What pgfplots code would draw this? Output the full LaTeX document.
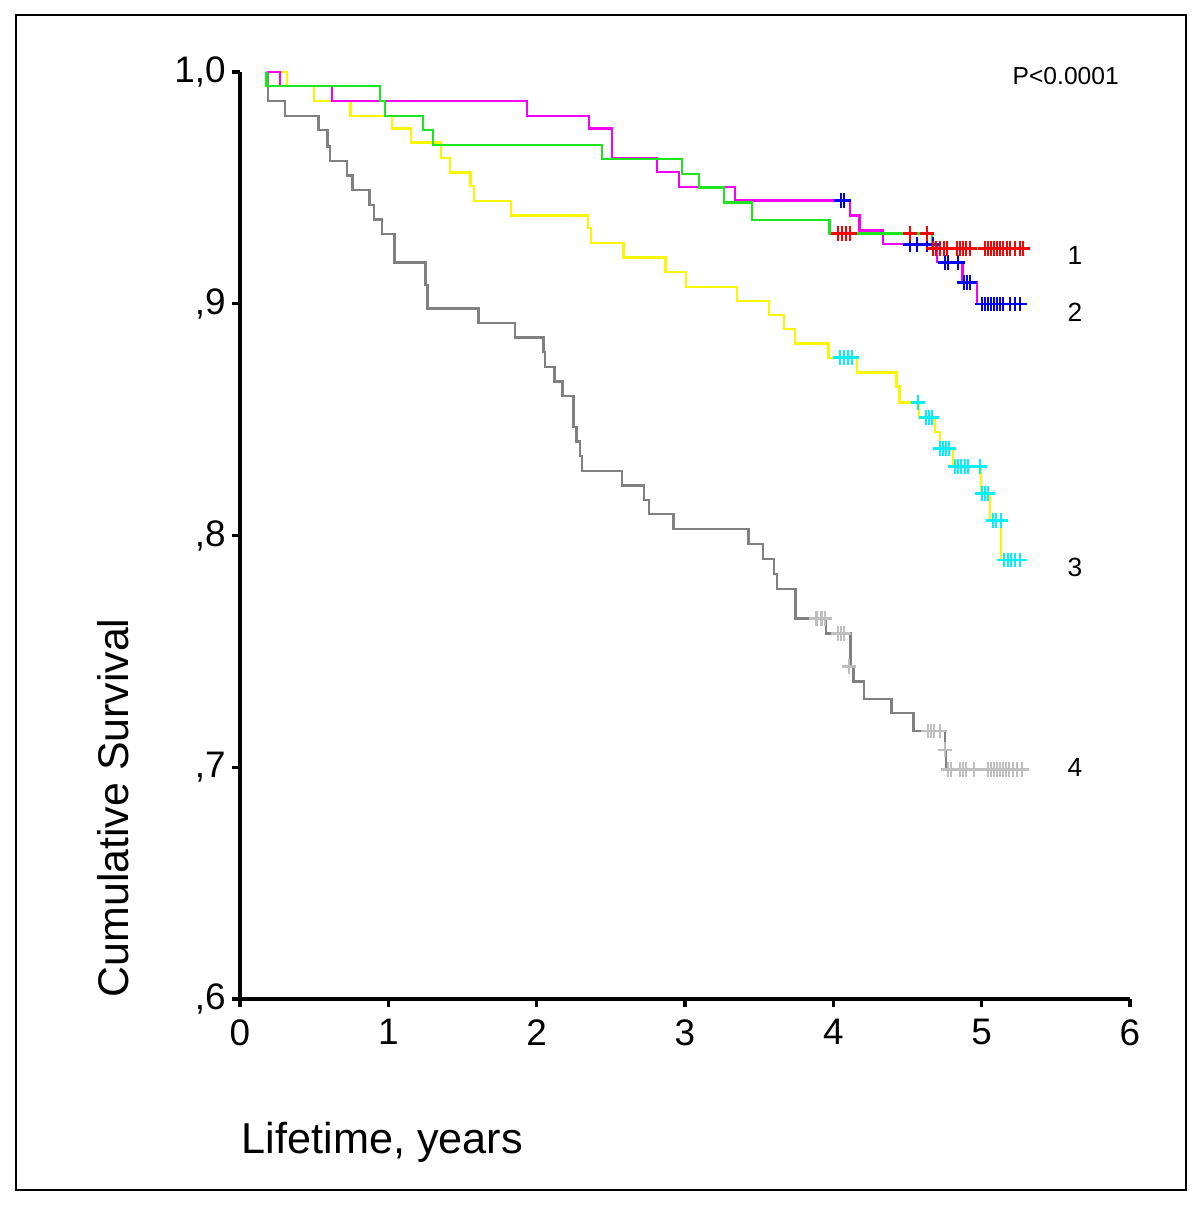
\documentclass[border=0pt]{standalone}
\usepackage{pgfplots}
\usepackage{pgfplotstable}
\pgfplotsset{compat=1.18}
\usepackage{fontspec}
\setmainfont{Liberation Sans}

\definecolor{cgreen}{RGB}{30,230,30}
\definecolor{cmag}{RGB}{245,0,245}
\definecolor{cyel}{RGB}{250,245,0}
\definecolor{cgray}{RGB}{128,128,128}
\definecolor{cred}{RGB}{255,0,0}
\definecolor{cblue}{RGB}{0,0,240}
\definecolor{ccyan}{RGB}{0,240,255}
\definecolor{clgray}{RGB}{190,190,190}

% group 1: green line, red censor marks
\pgfplotstableread{
x y
0.18 1.0
0.18 0.9940
0.944 0.9875
0.978 0.9811
1.234 0.9750
1.301 0.9685
2.441 0.9625
2.980 0.9560
3.094 0.9501
3.263 0.9436
3.452 0.9361
3.973 0.9303
4.665 0.9238
5.279 0.9238
}\gone
\pgfplotstableread{
x y
4.032 0.9303
4.058 0.9303
4.085 0.9303
4.112 0.9303
4.517 0.9303
4.632 0.9303
4.672 0.9238
4.692 0.9238
4.719 0.9238
4.746 0.9238
4.766 0.9238
4.834 0.9238
4.854 0.9238
4.874 0.9238
4.895 0.9238
4.921 0.9238
5.023 0.9238
5.043 0.9238
5.063 0.9238
5.083 0.9238
5.104 0.9238
5.124 0.9238
5.144 0.9238
5.171 0.9238
5.191 0.9238
5.225 0.9238
5.259 0.9238
5.279 0.9238
}\cone

% group 2: magenta line, blue censor marks
\pgfplotstableread{
x y
0.18 1.0
0.270 0.9940
0.620 0.9875
1.935 0.9811
2.353 0.9757
2.508 0.9630
2.811 0.9568
2.960 0.9504
3.337 0.9445
4.112 0.9381
4.175 0.9317
4.333 0.9257
4.699 0.9179
4.872 0.9093
4.969 0.8999
5.259 0.8999
}\gtwo
\pgfplotstableread{
x y
4.052 0.9445
4.072 0.9445
4.517 0.9257
4.564 0.9257
4.632 0.9257
4.672 0.9257
4.753 0.9179
4.773 0.9179
4.841 0.9179
4.881 0.9093
4.901 0.9093
4.922 0.9093
5.002 0.8999
5.023 0.8999
5.043 0.8999
5.063 0.8999
5.083 0.8999
5.104 0.8999
5.124 0.8999
5.144 0.8999
5.191 0.8999
5.225 0.8999
5.259 0.8999
}\ctwo

% group 3: yellow line, cyan censor marks
\pgfplotstableread{
x y
0.18 1.0
0.317 0.9940
0.499 0.9875
0.746 0.9811
1.025 0.9757
1.153 0.9695
1.355 0.9630
1.416 0.9567
1.555 0.9508
1.578 0.9443
1.827 0.9380
2.346 0.9327
2.366 0.9263
2.584 0.9199
2.870 0.9136
3.007 0.9072
3.351 0.9012
3.566 0.8952
3.668 0.8891
3.742 0.8829
3.968 0.8767
4.158 0.8703
4.427 0.8642
4.447 0.8573
4.578 0.8510
4.686 0.8447
4.720 0.8376
4.807 0.8297
4.996 0.8182
5.056 0.8064
5.130 0.7894
5.259 0.7894
}\gthree
\pgfplotstableread{
x y
4.045 0.8767
4.072 0.8767
4.099 0.8767
4.126 0.8767
4.571 0.8573
4.625 0.8510
4.645 0.8510
4.665 0.8510
4.719 0.8376
4.740 0.8376
4.760 0.8376
4.780 0.8376
4.820 0.8297
4.841 0.8297
4.861 0.8297
4.888 0.8297
4.908 0.8297
4.989 0.8297
5.002 0.8182
5.023 0.8182
5.043 0.8182
5.076 0.8064
5.097 0.8064
5.130 0.8064
5.151 0.7894
5.178 0.7894
5.198 0.7894
5.225 0.7894
5.259 0.7894
}\cthree

% group 4: grey line, light grey censor marks
\pgfplotstableread{
x y
0.18 1.0
0.19 0.9875
0.303 0.9811
0.528 0.9750
0.589 0.9678
0.607 0.9616
0.723 0.9553
0.757 0.9491
0.872 0.9426
0.905 0.9364
0.959 0.9301
1.040 0.9177
1.252 0.9081
1.265 0.8980
1.607 0.8916
1.854 0.8854
2.045 0.8792
2.056 0.8728
2.119 0.8664
2.173 0.8602
2.247 0.8469
2.270 0.8405
2.292 0.8343
2.304 0.8278
2.577 0.8215
2.724 0.8153
2.757 0.8092
2.921 0.8028
3.427 0.7963
3.524 0.7899
3.600 0.7834
3.622 0.7768
3.746 0.7641
3.952 0.7578
4.117 0.7434
4.135 0.7369
4.207 0.7295
4.393 0.7233
4.539 0.7156
4.753 0.7075
4.760 0.6991
5.272 0.6991
}\gfour
\pgfplotstableread{
x y
3.888 0.7641
3.922 0.7641
3.944 0.7641
4.031 0.7578
4.052 0.7578
4.072 0.7578
4.106 0.7434
4.638 0.7156
4.659 0.7156
4.679 0.7156
4.719 0.7156
4.753 0.7075
4.773 0.6991
4.794 0.6991
4.854 0.6991
4.874 0.6991
4.895 0.6991
4.948 0.6991
5.043 0.6991
5.063 0.6991
5.083 0.6991
5.104 0.6991
5.124 0.6991
5.144 0.6991
5.164 0.6991
5.184 0.6991
5.211 0.6991
5.238 0.6991
5.272 0.6991
}\cfour

\begin{document}
\begin{tikzpicture}
\path (0,0) rectangle (12,12.07);
\draw[line width=0.7pt] (0.16,0.17) rectangle (11.86,11.92);

\begin{axis}[
  at={(2.40cm,2.08cm)}, anchor=south west,
  scale only axis, width=8.9cm, height=9.27cm,
  xmin=0, xmax=6, ymin=0.6, ymax=1.0,
  clip=false,
  axis lines=left,
  axis line style={-, line width=0.9pt},
  every outer x axis line/.append style={-},
  every outer y axis line/.append style={-},
  tick align=outside, major tick length=0.08cm,
  tick style={black, line width=0.9pt},
  xtick={0,1,2,3,4,5,6},
  ytick={0.6,0.7,0.8,0.9,1.0},
  yticklabels={{,6},{,7},{,8},{,9},{1,0}},
  /pgf/number format/assume math mode=true,
  ticklabel style={font=\fontsize{10.5}{12}\selectfont},
  yticklabel style={xshift=0.06cm},
  const plot,
]
\addplot[cgray, line width=0.7pt, no marks] table {\gfour};
\addplot[cyel, line width=0.7pt, no marks] table {\gthree};
\addplot[cmag, line width=0.7pt, no marks] table {\gtwo};
\addplot[cgreen, line width=0.7pt, no marks] table {\gone};

\addplot[only marks, mark=+, mark size=2.1pt, mark options={clgray, line width=0.75pt}] table {\cfour};
\addplot[only marks, mark=+, mark size=2.1pt, mark options={ccyan, line width=0.75pt}] table {\cthree};
\addplot[only marks, mark=+, mark size=2.1pt, mark options={cblue, line width=0.75pt}] table {\ctwo};
\addplot[only marks, mark=+, mark size=2.1pt, mark options={cred, line width=0.75pt}] table {\cone};
\end{axis}

\node[rotate=90, anchor=base west, font=\fontsize{12.2}{14}\selectfont, inner sep=0pt] at (1.28,2.09) {Cumulative Survival};
\node[anchor=base west, font=\fontsize{12.3}{14}\selectfont, inner sep=0pt] at (2.41,0.54) {Lifetime, years};
\node[anchor=base west, font=\fontsize{7}{8}\selectfont, inner sep=0pt] at (10.12,11.22) {P<0.0001};
\node[font=\fontsize{7.5}{9}\selectfont] at (10.75,9.52) {1};
\node[font=\fontsize{7.5}{9}\selectfont] at (10.75,8.95) {2};
\node[font=\fontsize{7.5}{9}\selectfont] at (10.75,6.40) {3};
\node[font=\fontsize{7.5}{9}\selectfont] at (10.75,4.40) {4};
\end{tikzpicture}
\end{document}
